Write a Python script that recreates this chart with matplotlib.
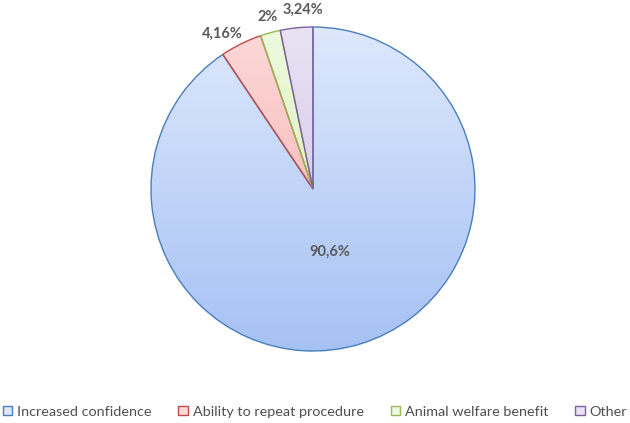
import matplotlib.pyplot as plt
import numpy as np
from matplotlib.colors import LinearSegmentedColormap
from matplotlib.patches import Patch

plt.rcParams["font.family"] = ["Lato", "DejaVu Sans"]

categories = ["Increased confidence", "Ability to repeat procedure",
              "Animal welfare benefit", "Other"]
shares = [90.6, 4.16, 2.0, 3.24]
pct_labels = ["90,6%", "4,16%", "2%", "3,24%"]

edge_colors = ["#4a7ebb", "#be4b48", "#98b954", "#7d60a0"]
top_colors = ["#dde8fc", "#fcd9d8", "#eef9de", "#e9e2f3"]
bottom_colors = ["#a6c1f4", "#f4a9a7", "#d3eeb0", "#cbbde3"]
text_color = "#595959"

fig = plt.figure(figsize=(6.3, 4.23), dpi=100)
R = 1.01
ax = fig.add_axes([(313 - 162 * R) / 630, (423 - 189 - 162 * R) / 423,
                   2 * 162 * R / 630, 2 * 162 * R / 423])

wedges, _ = ax.pie(shares, startangle=90, counterclock=False, radius=1,
                   wedgeprops=dict(linewidth=1.0))

grad = np.linspace(0, 1, 256)[:, None]
for w, ec, c0, c1 in zip(wedges, edge_colors, top_colors, bottom_colors):
    w.set_facecolor("none")
    w.set_edgecolor(ec)
    w.set_zorder(3)
    cmap = LinearSegmentedColormap.from_list("g", [c0, c1])
    im = ax.imshow(grad, extent=(-1, 1, -1, 1), origin="upper", cmap=cmap,
                   aspect="auto", zorder=2, interpolation="bilinear")
    im.set_clip_path(w)

ax.set_xlim(-R, R)
ax.set_ylim(-R, R)
ax.set_aspect("equal")
ax.axis("off")

# label placement: big slice inside, small slices just outside the rim
label_nudge = [(0.0, 0.0), (-0.07, -0.03), (0.01, 0.0), (0.05, 0.01)]
label_pos = []
for i, w in enumerate(wedges):
    mid = np.deg2rad((w.theta1 + w.theta2) / 2)
    if i == 0:
        label_pos.append((0.105, -0.39))
    else:
        r = 1.1
        dx, dy = label_nudge[i]
        label_pos.append((r * np.cos(mid) + dx, r * np.sin(mid) + dy))

for (x, y), txt in zip(label_pos, pct_labels):
    ax.text(x, y, txt, ha="center", va="center", fontsize=10.5,
            fontweight="bold", color=text_color)

handles = [Patch(facecolor=fc, edgecolor=ec, linewidth=1.0)
           for fc, ec in zip(top_colors, edge_colors)]
fig.legend(handles, categories, loc="lower center", bbox_to_anchor=(0.5, -0.018),
           ncol=4, frameon=False, fontsize=10.4, labelcolor="#4f4f4f",
           handlelength=0.65, handleheight=0.65, handletextpad=0.35,
           columnspacing=1.85, borderpad=0.4)

fig.savefig("out.png", dpi=100)
